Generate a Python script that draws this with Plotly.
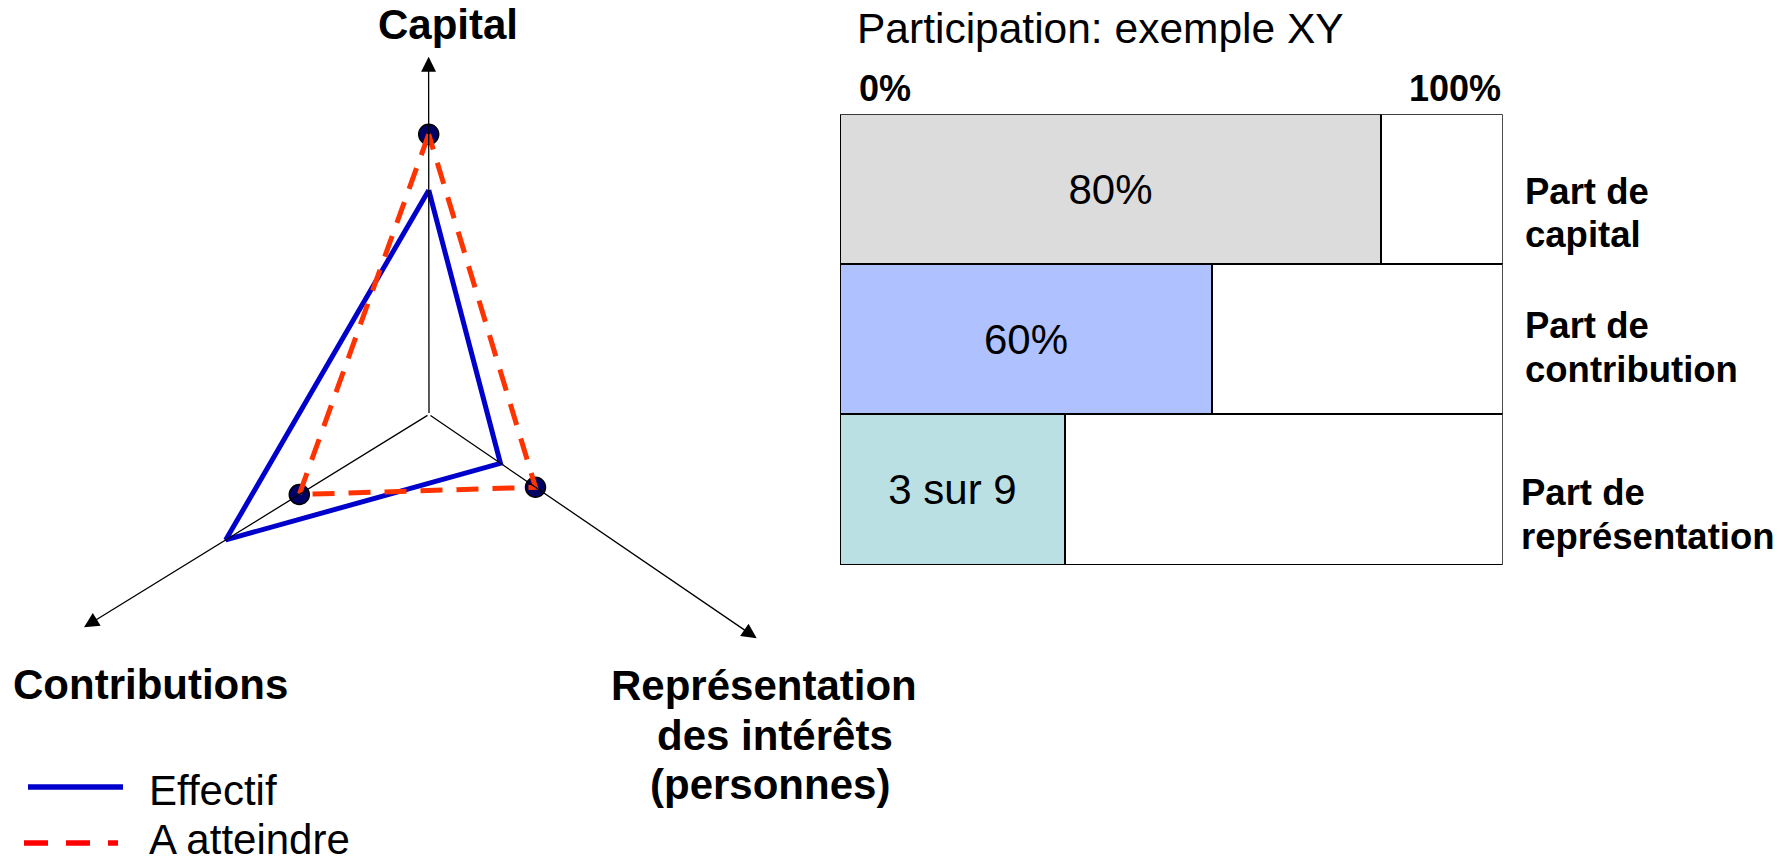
import plotly.graph_objects as go

W, H = 1782, 865
FONT = "Liberation Sans, Arial, sans-serif"

# ---------------- data ----------------
radar_axes = ["Capital", "Contributions", "Représentation des intérêts (personnes)"]
effectif = [0.627, 0.589, 0.218]        # fraction of each axis length
a_atteindre = [0.783, 0.376, 0.325]

bar_categories = ["Part de capital", "Part de contribution", "Part de représentation"]
bar_values = [0.817, 0.562, 0.339]      # drawn length as fraction of the 0%-100% box
bar_labels = ["80%", "60%", "3 sur 9"]
bar_colors = ["#DCDCDC", "#AFC2FF", "#BAE0E3"]
scale_labels = ["0%", "100%"]

# ---------------- layout geometry (pixel space of the full-page axis) ----------------
ORIGIN = (429.0, 414.5)
TIPS = [(428.6, 56.7), (84.0, 627.3), (756.7, 638.3)]


def project(values):
    xs, ys = [], []
    for r, (tx, ty) in zip(values, TIPS):
        xs.append(ORIGIN[0] + r * (tx - ORIGIN[0]))
        ys.append(ORIGIN[1] + r * (ty - ORIGIN[1]))
    return xs + xs[:1], ys + ys[:1]


ex, ey = project(effectif)
ax_, ay_ = project(a_atteindre)

fig = go.Figure()

fig.add_trace(go.Scatter(x=ex, y=ey, mode="lines", name="Effectif",
                         line=dict(color="#0000CC", width=5), xaxis="x", yaxis="y",
                         hoverinfo="skip"))
fig.add_trace(go.Scatter(x=ax_[:3], y=ay_[:3], mode="markers", name="points",
                         marker=dict(size=20, color="#000066", line=dict(color="black", width=1.5)),
                         xaxis="x", yaxis="y", hoverinfo="skip"))
fig.add_trace(go.Scatter(x=ax_, y=ay_, mode="lines", name="A atteindre",
                         line=dict(color="#FF3300", width=5, dash="22px,14px"),
                         xaxis="x", yaxis="y", hoverinfo="skip"))

# bars
fig.add_trace(go.Bar(y=bar_categories, x=bar_values, orientation="h",
                     marker=dict(color=bar_colors, line=dict(color="black", width=2)),
                     text=bar_labels, textposition="inside", insidetextanchor="middle",
                     textangle=0, textfont=dict(family=FONT, size=42, color="black"),
                     xaxis="x2", yaxis="y2", hoverinfo="skip"))
fig.add_trace(go.Bar(y=bar_categories, x=[1 - v for v in bar_values], orientation="h",
                     marker=dict(color="white", line=dict(color="black", width=2)),
                     xaxis="x2", yaxis="y2", hoverinfo="skip"))

annotations = []
# radar axes arrows
for tx, ty in TIPS:
    annotations.append(dict(x=tx, y=ty, ax=ORIGIN[0], ay=ORIGIN[1], xref="x", yref="y",
                            axref="x", ayref="y", text="", showarrow=True, arrowhead=2,
                            arrowsize=2.3, arrowwidth=1.3, arrowcolor="black", standoff=0))


def txt(x, y, s, size, bold=False, xanchor="center", yanchor="middle"):
    annotations.append(dict(x=x, y=y, xref="x", yref="y", text=f"<b>{s}</b>" if bold else s,
                            showarrow=False, xanchor=xanchor, yanchor=yanchor,
                            font=dict(family=FONT, size=size, color="black")))


txt(448, 24, "Capital", 42, True)
txt(150, 684, "Contributions", 42, True)
txt(764, 685, "Représentation", 42, True)
txt(775, 735, "des intérêts", 42, True)
txt(770, 784, "(personnes)", 42, True)

# custom legend
txt(147, 790, "Effectif", 42, xanchor="left")
txt(147, 865, "A atteindre", 42, xanchor="left", yanchor="bottom")

# right chart texts
txt(855, 28, "Participation: exemple XY", 42.5, xanchor="left")
txt(857, 88, scale_labels[0], 36, True, xanchor="left")
txt(1503, 88, scale_labels[1], 36, True, xanchor="right")

row_label_lines = [("Part de", "capital", 191, 234, 1523),
                   ("Part de", "contribution", 325, 369, 1523),
                   ("Part de", "représentation", 492, 536, 1519)]
for l1, l2, y1, y2, x0 in row_label_lines:
    txt(x0, y1, l1, 36.5, True, xanchor="left")
    txt(x0, y2, l2, 36.5, True, xanchor="left")

shapes = [
    dict(type="line", xref="x", yref="y", x0=28, x1=123, y0=787, y1=787,
         line=dict(color="#0000CC", width=5.5)),
    dict(type="line", xref="x", yref="y", x0=24, x1=118, y0=843, y1=843,
         line=dict(color="#FF0000", width=5.5, dash="24px,18px")),
]

fig.update_layout(
    width=W, height=H, margin=dict(l=0, r=0, t=0, b=0, pad=0),
    paper_bgcolor="white", plot_bgcolor="rgba(0,0,0,0)",
    showlegend=False, barmode="stack", bargap=0,
    xaxis=dict(domain=[0, 1], range=[0, W], visible=False, fixedrange=True),
    yaxis=dict(domain=[0, 1], range=[H, 0], visible=False, fixedrange=True),
    xaxis2=dict(domain=[840 / W, 1502.7 / W], range=[0, 1], visible=False, anchor="y2"),
    yaxis2=dict(domain=[(H - 565) / H, (H - 114.3) / H], autorange="reversed",
                visible=False, anchor="x2"),
    annotations=annotations, shapes=shapes,
    font=dict(family=FONT),
)

fig.write_html("out.html", config={"displayModeBar": False},
               post_script="document.body.style.margin='0';document.body.style.overflow='hidden';")
